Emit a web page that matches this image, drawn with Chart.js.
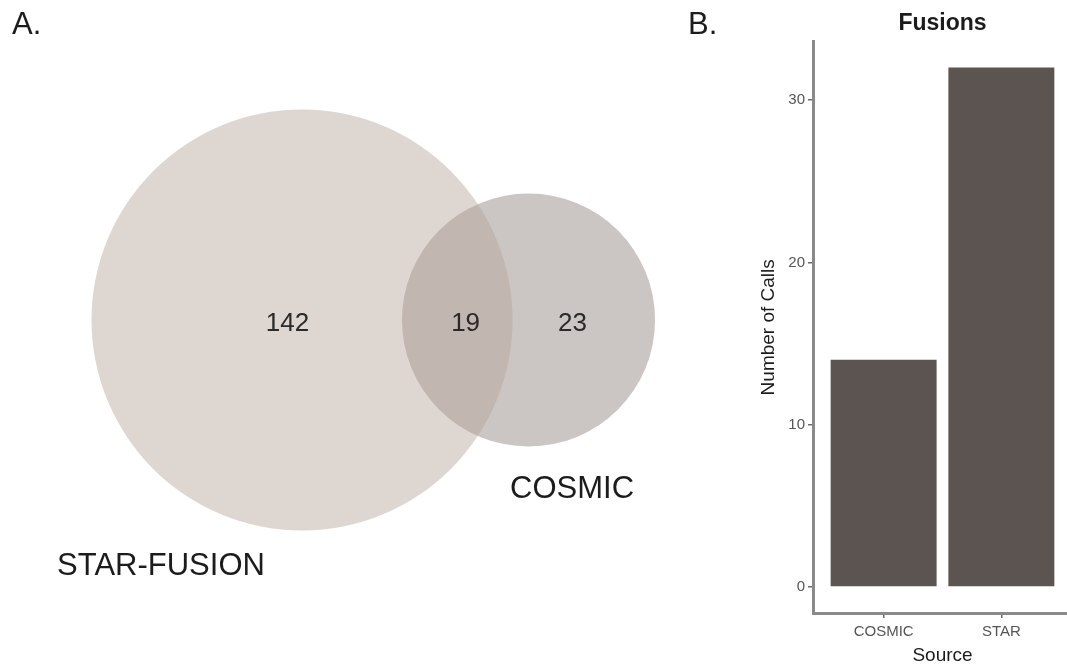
<!DOCTYPE html>
<html>
<head>
<meta charset="utf-8">
<script src="https://cdn.jsdelivr.net/npm/chart.js@4.4.1/dist/chart.umd.min.js"></script>
<style>
  html, body { margin: 0; padding: 0; background: #fff; overflow: hidden; width: 1067px; height: 667px; }
  #venn { position: absolute; left: 0; top: 0; }
  #bars { position: absolute; left: 680px; top: 0; }
</style>
</head>
<body>
<canvas id="venn" width="690" height="667"></canvas>
<canvas id="bars" width="410" height="667"></canvas>
<script>
// Panel A: overlap of fusion calls between the two callers
const setNames = ['STAR-FUSION', 'COSMIC'];
const regionCounts = [142, 19, 23]; // STAR-FUSION only, shared, COSMIC only

// Panel B: fusion calls per source
const sources = ['COSMIC', 'STAR'];
const callCounts = [14, 32];
const callTicks = [0, 10, 20, 30];

// Venn layout in plot units (the STAR-FUSION circle has radius 1)
const vennCircles = [
  { x: 0,     y: 0, r: 1,     color: 'rgba(180,163,153,0.45)' },
  { x: 1.076, y: 0, r: 0.601, color: 'rgba(137,122,118,0.44)' }
];
const regionAnchors = [ { x: -0.069, y: -0.018 }, { x: 0.777, y: -0.018 }, { x: 1.285, y: -0.018 } ];
const nameAnchors = [ { x: -0.67, y: -1.172 }, { x: 1.283, y: -0.806 } ];

const FONT = '"Liberation Sans", Arial, Helvetica, sans-serif';
Chart.defaults.font.family = FONT;

function pixelRadius(chart, r) {
  const xs = chart.scales.x;
  return Math.abs(xs.getPixelForValue(r) - xs.getPixelForValue(0));
}

const vennText = {
  id: 'vennText',
  afterDatasetsDraw(chart) {
    const { ctx, scales: { x, y } } = chart;
    ctx.save();
    ctx.textAlign = 'center';
    ctx.textBaseline = 'middle';
    ctx.fillStyle = '#2a2a2a';
    ctx.font = '26px ' + FONT;
    regionCounts.forEach((n, i) => {
      ctx.fillText(String(n), x.getPixelForValue(regionAnchors[i].x), y.getPixelForValue(regionAnchors[i].y));
    });
    ctx.fillStyle = '#1c1c1c';
    ctx.font = '31px ' + FONT;
    setNames.forEach((name, i) => {
      ctx.fillText(name, x.getPixelForValue(nameAnchors[i].x), y.getPixelForValue(nameAnchors[i].y));
    });
    ctx.textAlign = 'left';
    ctx.fillText('A.', 12, 25);
    ctx.restore();
  }
};

new Chart(document.getElementById('venn'), {
  type: 'scatter',
  data: {
    datasets: vennCircles.map((c, i) => ({
      label: setNames[i],
      data: [{ x: c.x, y: c.y }],
      backgroundColor: c.color,
      borderWidth: 0,
      pointBorderWidth: 0,
      pointRadius: ctx => pixelRadius(ctx.chart, c.r),
      clip: false
    }))
  },
  options: {
    responsive: false,
    animation: false,
    events: [],
    layout: { padding: 0 },
    plugins: { legend: { display: false }, tooltip: { enabled: false } },
    scales: {
      x: { type: 'linear', min: -1.4347, max: 1.843, display: false },
      y: { type: 'linear', min: -1.648, max: 1.520, display: false }
    }
  },
  plugins: [vennText]
});

const panelLetter = {
  id: 'panelLetter',
  afterDraw(chart) {
    const ctx = chart.ctx;
    ctx.save();
    ctx.fillStyle = '#1c1c1c';
    ctx.font = '31px ' + FONT;
    ctx.textAlign = 'left';
    ctx.textBaseline = 'middle';
    ctx.fillText('B.', 8, 25);
    ctx.restore();
  }
};

const axisGrid = { display: true, drawOnChartArea: false, drawTicks: true, tickLength: 5, color: '#6a6a6a', lineWidth: 1.5, offset: false };
const axisBorder = { display: true, color: '#8a8a8a', width: 3 };

new Chart(document.getElementById('bars'), {
  type: 'bar',
  data: {
    datasets: [{
      label: 'Fusions',
      data: callCounts.map((v, i) => ({ x: i + 1, y: v })),
      backgroundColor: '#5c5450',
      borderWidth: 0,
      barPercentage: 0.9,
      categoryPercentage: 1
    }]
  },
  options: {
    responsive: false,
    animation: false,
    events: [],
    layout: { padding: { left: 77, right: 18, top: 0, bottom: 0 } },
    plugins: {
      legend: { display: false },
      tooltip: { enabled: false },
      title: {
        display: true, text: 'Fusions', fullSize: false, color: '#1c1c1c',
        font: { size: 23, weight: 'bold' }, padding: { top: 10, bottom: 4 }
      }
    },
    scales: {
      x: {
        type: 'linear', min: 0.4, max: 2.6, offset: false,
        afterBuildTicks: s => { s.ticks = sources.map((_, i) => ({ value: i + 1 })); },
        ticks: { callback: v => sources[Math.round(v) - 1], color: '#555', font: { size: 15 }, padding: 5, maxRotation: 0, autoSkip: false },
        grid: axisGrid,
        border: axisBorder,
        title: { display: true, text: 'Source', color: '#1c1c1c', font: { size: 19 }, padding: 0 },
        afterFit: s => { s.height = 54; }
      },
      y: {
        type: 'linear', min: -1.6, max: 33.6,
        afterBuildTicks: s => { s.ticks = callTicks.map(v => ({ value: v })); },
        ticks: { color: '#555', font: { size: 15 }, padding: 3 },
        grid: axisGrid,
        border: axisBorder,
        title: { display: true, text: 'Number of Calls', color: '#1c1c1c', font: { size: 19 }, padding: 0 },
        afterFit: s => { s.width = 56; }
      }
    }
  },
  plugins: [panelLetter]
});
</script>
</body>
</html>
